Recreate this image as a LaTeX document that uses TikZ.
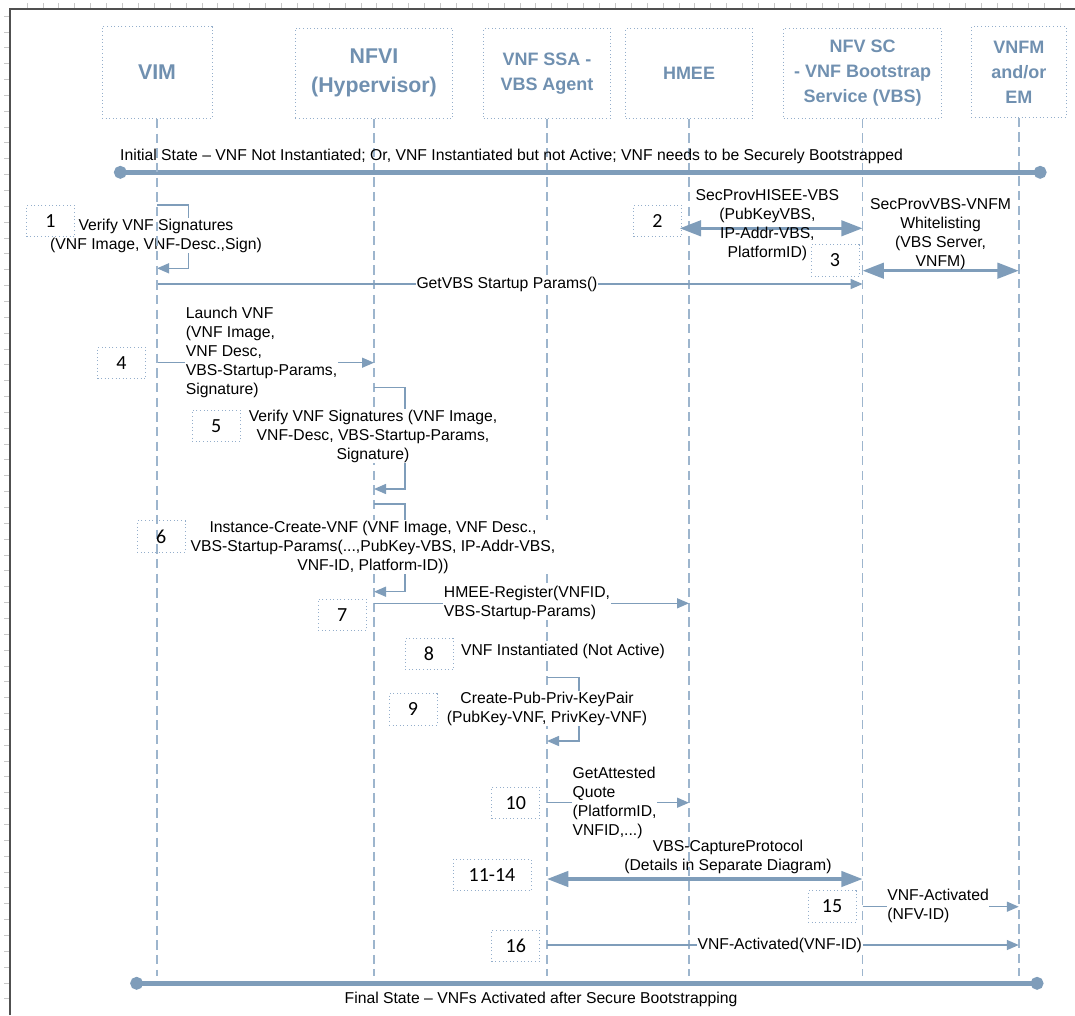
\documentclass[tikz,border=0pt]{standalone}
\usepackage{fontspec}
\setmainfont{Liberation Sans}
\newfontfamily\stepfont{Carlito}
\usetikzlibrary{arrows.meta,positioning}

\definecolor{lineblue}{HTML}{7F9DBA}
\definecolor{lifeblue}{HTML}{9DB5CD}
\definecolor{dotblue}{HTML}{94AECB}
\definecolor{headblue}{HTML}{7090B0}
\definecolor{framegray}{HTML}{505050}
\definecolor{tickgray}{HTML}{C8C8C8}

\begin{document}
\begin{tikzpicture}[x=0.75pt,y=-0.75pt]
  \tikzset{
    actor/.style={draw=dotblue, dotted, line width=0.7pt, text=headblue, align=center, inner sep=0pt,
      minimum height=67.5pt, font=\bfseries\fontsize{13.5}{18.75}\selectfont},
    lifeline/.style={draw=lifeblue, line width=1.1pt, dash pattern=on 7pt off 4pt},
    stepbox/.style={draw=dotblue, dotted, line width=0.7pt, minimum width=36pt, minimum height=23.6pt,
      inner sep=0pt, font=\stepfont\fontsize{15}{18}\selectfont},
    msg/.style={draw=lineblue, line width=1.1pt, -{Triangle[length=9pt,width=7.5pt]}},
    bigmsg/.style={draw=lineblue, line width=2.6pt,
      {Triangle[length=16pt,width=11.5pt]}-{Triangle[length=16pt,width=11.5pt]}},
    state/.style={draw=lineblue, line width=3.75pt, {Circle[length=9.5pt]}-{Circle[length=9.5pt]}},
    lbl/.style={font=\fontsize{11.8}{14.25}\selectfont, align=center, inner sep=0.5pt},
    lblw/.style={lbl, fill=white}
  }
  \useasboundingbox (0,0) rectangle (1075,1015);

  % sheet frame
  \foreach \i in {0,...,66} \draw[tickgray, line width=0.5pt] (27+15.9*\i,3) -- (27+15.9*\i,8);
  \foreach \j in {0,...,62} \draw[tickgray, line width=0.5pt] (4,16+15.85*\j) -- (9,16+15.85*\j);
  \draw[framegray, line width=1.2pt] (10,1015) -- (10,9) -- (1075,9);

  % participants
  \node[actor, minimum width=82.5pt, minimum height=69pt, font=\bfseries\fontsize{16}{21.75}\selectfont] (vim) at (157,72.5) {VIM};
  \node[actor, minimum width=118pt, font=\bfseries\fontsize{16}{21.75}\selectfont] (nfvi) at (374,73.3) {NFVI\\(Hypervisor)};
  \node[actor, minimum width=95.25pt] (ssa) at (547,73.3) {VNF SSA -\\VBS Agent};
  \node[actor, minimum width=95.25pt] (hmee) at (689,73.3) {HMEE};
  \node[actor, minimum width=118.5pt] (vbs) at (862.6,73.3) {NFV SC\\- VNF Bootstrap\\Service (VBS)};
  \node[actor, minimum width=71.25pt, minimum height=68pt] (vnfm) at (1018.8,72) {VNFM\\and/or\\EM};

  \foreach \a in {nfvi,ssa,hmee,vbs,vnfm} \draw[lifeline] (\a.south) -- (\a.south |- 0,976);

  % initial and final state
  \coordinate (start-l) at (114,172.3);
  \coordinate (start-r) at (1046.5,172.3);
  \draw[state] (start-l) -- (start-r);
  \node[lbl] (start-txt) at (511.5,156) {Initial State -- VNF Not Instantiated; Or, VNF Instantiated but not Active; VNF needs to be Securely Bootstrapped};
  \coordinate (end-l) at (130.3,983.3);
  \coordinate (end-r) at (1043.4,983.3);
  \draw[state] (end-l) -- (end-r);
  \node[lbl] (end-txt) at (541,999) {Final State -- VNFs Activated after Secure Bootstrapping};

  % messages
  \draw[msg] (vim |- 0,205) -- ++(31.5,0) |- (vim |- 0,268.3);
  \node[lblw] (m1) at (156,235.7) {Verify VNF Signatures\\(VNF Image, VNF-Desc.,Sign)};
  \draw[bigmsg, shorten <=-7pt] (hmee |- 0,228.3) -- (vbs |- 0,228.3);
  \node[lbl] (m2) at (767.4,225) {SecProvHISEE-VBS\\(PubKeyVBS,\\IP-Addr-VBS,\\PlatformID)};
  \draw[bigmsg] (vbs |- 0,270.7) -- (vnfm |- 0,270.7);
  \node[lbl] (m3) at (940.6,234) {SecProvVBS-VNFM\\Whitelisting\\(VBS Server,\\VNFM)};
  \draw[msg] (vim |- 0,284) -- (vbs |- 0,284);
  \node[lblw] (m0) at (507,284) {GetVBS Startup Params()};

  \draw[msg] (vim |- 0,362.7) -- (nfvi |- 0,362.7);
  \node[lblw, align=left, anchor=west] (m4) at (185,352) {Launch VNF\\(VNF Image,\\VNF Desc,\\VBS-Startup-Params,\\Signature)};
  \draw[msg] (nfvi |- 0,387.3) -- ++(31,0) |- (nfvi |- 0,489);
  \node[lblw] (m5) at (373,436) {Verify VNF Signatures (VNF Image,\\VNF-Desc, VBS-Startup-Params,\\Signature)};
  \draw[msg] (nfvi |- 0,504) -- ++(31,0) |- (nfvi |- 0,591.7);
  \node[lblw] (m6) at (373,547) {Instance-Create-VNF (VNF Image, VNF Desc.,\\VBS-Startup-Params(...,PubKey-VBS, IP-Addr-VBS,\\VNF-ID, Platform-ID))};
  \draw[msg] (nfvi |- 0,603.3) -- (hmee |- 0,603.3);
  \node[lblw, align=left, anchor=west] (m7) at (443,602.8) {HMEE-Register(VNFID,\\VBS-Startup-Params)};
  \node[lblw] (m8) at (563,651) {VNF Instantiated (Not Active)};
  \draw[msg] (ssa |- 0,677.7) -- ++(32,0) |- (ssa |- 0,741);
  \node[lblw] (m9) at (547,708.7) {Create-Pub-Priv-KeyPair\\(PubKey-VNF, PrivKey-VNF)};
  \draw[msg] (ssa |- 0,802.7) -- (hmee |- 0,802.7);
  \node[lblw, align=left, anchor=west] (m10) at (571.7,803) {GetAttested\\Quote\\(PlatformID,\\VNFID,...)};
  \draw[bigmsg] (ssa |- 0,879) -- (vbs |- 0,879);
  \node[lbl] (m11) at (728,856.7) {VBS-CaptureProtocol\\(Details in Separate Diagram)};
  \draw[msg] (vbs |- 0,906.7) -- (vnfm |- 0,906.7);
  \node[lblw, align=left, anchor=west] (m15) at (886.4,905.5) {VNF-Activated\\(NFV-ID)};
  \draw[msg] (ssa |- 0,945) -- (vnfm |- 0,945);
  \node[lblw] (m16) at (779.7,945) {VNF-Activated(VNF-ID)};

  \draw[lifeline] (vim.south) -- (vim.south |- 0,976);

  % step numbers
  \node[stepbox] (s1) at (50.5,221.2) {1};
  \node[stepbox] (s2) at (657.5,221.2) {2};
  \node[stepbox] (s3) at (835,260.5) {3};
  \node[stepbox] (s4) at (121.5,363.2) {4};
  \node[stepbox] (s5) at (216.2,426) {5};
  \node[stepbox] (s6) at (161.2,536.5) {6};
  \node[stepbox] (s7) at (342.2,615) {7};
  \node[stepbox] (s8) at (429,654.2) {8};
  \node[stepbox] (s9) at (413,709.3) {9};
  \node[stepbox] (s10) at (515.8,803) {10};
  \node[stepbox, minimum width=58.5pt] (s11) at (492,875) {11-14};
  \node[stepbox] (s15) at (832,906.5) {15};
  \node[stepbox] (s16) at (515.8,946) {16};
\end{tikzpicture}
\end{document}
